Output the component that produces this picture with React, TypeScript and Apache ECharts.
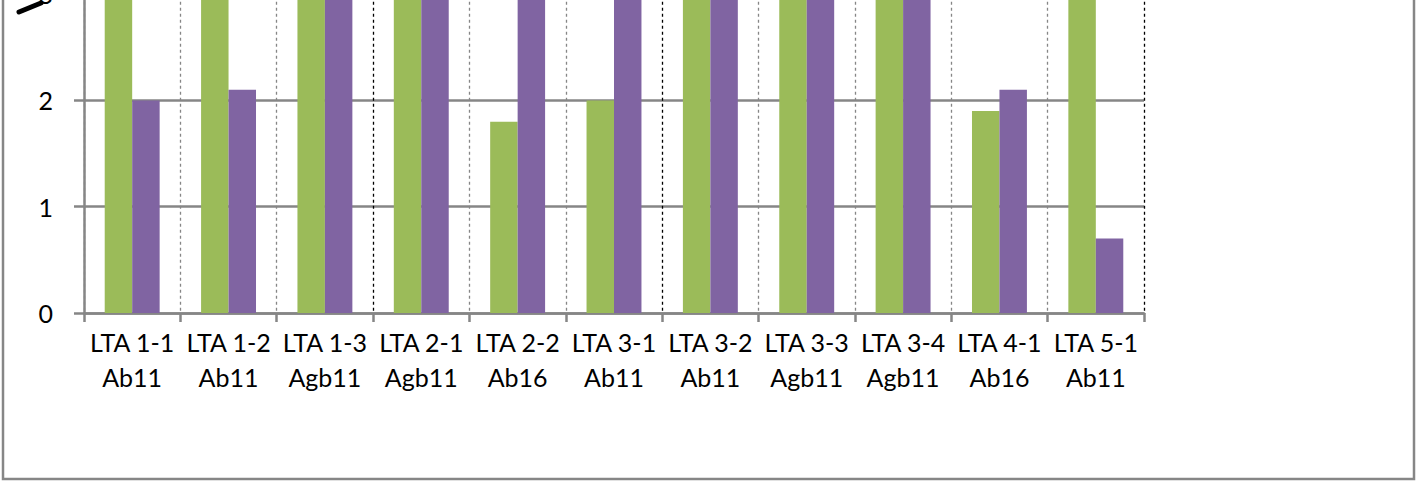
import React, { useEffect, useRef } from "react";
import * as echarts from "echarts";

const categories = [
  "LTA 1-1\nAb11",
  "LTA 1-2\nAb11",
  "LTA 1-3\nAgb11",
  "LTA 2-1\nAgb11",
  "LTA 2-2\nAb16",
  "LTA 3-1\nAb11",
  "LTA 3-2\nAb11",
  "LTA 3-3\nAgb11",
  "LTA 3-4\nAgb11",
  "LTA 4-1\nAb16",
  "LTA 5-1\nAb11",
];
// values above 3 are cut off by the top edge of the picture (estimated)
const greenValues = [4, 4, 4, 4, 1.8, 2.0, 4, 4, 4, 1.9, 4];
const purpleValues = [2.0, 2.1, 4, 4, 4, 4, 4, 4, 4, 2.1, 0.7];
const yTicks = { min: 0, max: 4, interval: 1 };

const OFFSET = 130; // inner chart shifted up so the top is cut off
const W = 1418;
const H = 483 + OFFSET;

const GRAY = "#868686";
const splitColors = [GRAY, GRAY, GRAY, "#000", GRAY, GRAY, "#000", GRAY, GRAY, GRAY, GRAY, "#000"];

export default function App() {
  const ref = useRef<HTMLDivElement>(null);
  useEffect(() => {
    if (!ref.current) return;
    const chart = echarts.init(ref.current, undefined, { renderer: "svg" });
    const font = "Lato";
    chart.setOption({
      animation: false,
      backgroundColor: "#fff",
      textStyle: { fontFamily: font },
      grid: {
        left: 84,
        right: W - 1144,
        top: 313 + OFFSET - 4 * 106.3,
        bottom: H - (313 + OFFSET),
        containLabel: false,
      },
      xAxis: {
        type: "category",
        data: categories,
        boundaryGap: true,
        axisLine: { show: true, lineStyle: { color: GRAY, width: 2.5 } },
        axisTick: { show: true, interval: 0, length: 9, lineStyle: { color: GRAY, width: 2.5 } },
        axisLabel: {
          interval: 0,
          fontSize: 25,
          lineHeight: 35,
          color: "#000",
          fontFamily: font,
          margin: 11,
        },
        splitLine: {
          show: true,
          interval: 0,
          lineStyle: { color: splitColors, width: 1.3, type: [3, 3] },
        },
      },
      yAxis: {
        type: "value",
        min: yTicks.min,
        max: yTicks.max,
        interval: yTicks.interval,
        axisLine: { show: true, lineStyle: { color: GRAY, width: 2.5 } },
        axisTick: { show: true, length: 10, lineStyle: { color: GRAY, width: 2.5 } },
        axisLabel: { fontSize: 25, color: "#000", fontFamily: font, margin: 31 },
        splitLine: { show: true, lineStyle: { color: GRAY, width: 2.5 } },
      },
      graphic: [
        {
          type: "rect",
          shape: { x: 3, y: 0, width: 1411, height: 479 + OFFSET },
          style: { fill: "none", stroke: GRAY, lineWidth: 2.5 },
          silent: true,
          z: 100,
        },
        {
          type: "line",
          shape: { x1: 19, y1: 12 + OFFSET, x2: 41, y2: 3 + OFFSET },
          style: { stroke: "#000", lineWidth: 5, lineCap: "round" },
          silent: true,
          z: 100,
        },
      ],
      series: [
        {
          type: "bar",
          data: greenValues,
          barWidth: "28.5%",
          barGap: "0%",
          itemStyle: { color: "#9BBB59" },
        },
        {
          type: "bar",
          data: purpleValues,
          barWidth: "28.5%",
          barGap: "0%",
          itemStyle: { color: "#8064A2" },
        },
      ],
    });
    return () => chart.dispose();
  }, []);
  return (
    <div
      style={{
        position: "absolute",
        left: 0,
        top: 0,
        width: W,
        height: 483,
        overflow: "hidden",
        background: "#fff",
      }}
    >
      <div
        ref={ref}
        style={{ position: "absolute", left: 0, top: -OFFSET, width: W, height: H }}
      />
    </div>
  );
}
